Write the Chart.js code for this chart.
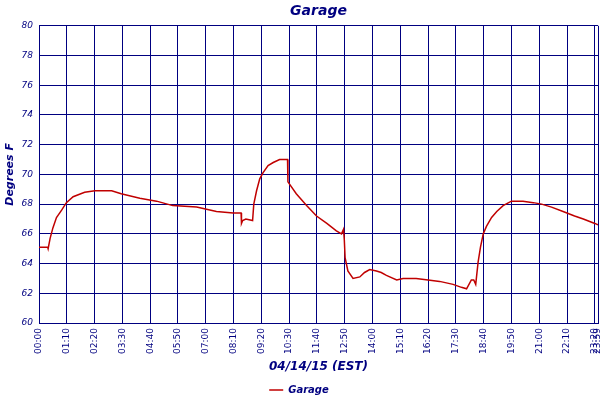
<!DOCTYPE html>
<html>
<head>
<meta charset="utf-8">
<title>Garage</title>
<script src="https://cdn.jsdelivr.net/npm/chart.js@4"></script>
<style>
  html, body { margin: 0; padding: 0; background: #fff; }
</style>
</head>
<body>
<canvas id="chartGarage" width="600" height="400"></canvas>
<script>
  // minutes after midnight on 04/14/15 and the garage temperature read there
  var minutes = [0, 22, 23, 28, 35, 44, 57, 69, 86, 115,
                 141, 183, 207, 254, 296, 337, 397, 447, 489, 509,
                 510, 513, 521, 538, 541, 548, 556, 564, 577, 590,
                 606, 626, 627, 648, 674, 699, 725, 749, 762, 767,
                 769, 771, 778, 791, 808, 820, 833, 850, 862, 875,
                 901, 917, 950, 980, 1009, 1043, 1064, 1077, 1089, 1095,
                 1100, 1106, 1112, 1119, 1127, 1140, 1153, 1169, 1190, 1219,
                 1245, 1266, 1291, 1320, 1349, 1371, 1400, 1408];
  var temps = [65.1, 65.1, 65.0, 65.7, 66.4, 67.1, 67.6, 68.1, 68.5, 68.8,
               68.9, 68.9, 68.7, 68.4, 68.2, 67.9, 67.8, 67.5, 67.4, 67.4,
               66.7, 66.9, 67.0, 66.9, 68.0, 68.9, 69.7, 70.1, 70.6, 70.8,
               71.0, 71.0, 69.5, 68.7, 67.9, 67.2, 66.7, 66.2, 66.0, 66.3,
               65.6, 64.4, 63.5, 63.0, 63.1, 63.4, 63.6, 63.5, 63.4, 63.2,
               62.9, 63.0, 63.0, 62.9, 62.8, 62.6, 62.4, 62.3, 62.9, 62.9,
               62.6, 64.1, 65.1, 66.0, 66.5, 67.1, 67.5, 67.9, 68.2, 68.2,
               68.1, 68.0, 67.8, 67.5, 67.2, 67.0, 66.7, 66.6];

  // x ticks every 70 minutes; the axis end carries the last reading's label
  var tickMinutes = [0, 70, 140, 210, 280, 350, 420, 490, 560, 630, 700,
                     770, 840, 910, 980, 1050, 1120, 1190, 1260, 1330, 1400];
  var endMinute = 1408;
  var endLabel = "23:59";
  var yTicks = [60, 62, 64, 66, 68, 70, 72, 74, 76, 78, 80];

  var navy = "#000080";
  var face = "'DejaVu Sans', sans-serif";

  function hhmm(m) {
    if (m === endMinute) return endLabel;
    var h = Math.floor(m / 60), mm = m % 60;
    return (h < 10 ? "0" : "") + h + ":" + (mm < 10 ? "0" : "") + mm;
  }

  var points = minutes.map(function (m, i) { return {x: m, y: temps[i]}; });

  // legend box a bit shorter so its row sits lower, near the bottom edge
  var legendLow = {
    id: "legendLow",
    afterInit: function (chart) {
      var lg = chart.legend;
      if (!lg) return;
      var fit = lg.fit;
      lg.fit = function () { fit.call(this); this.height = Math.max(0, this.height - 5); };
    }
  };

  new Chart(document.getElementById("chartGarage"), {
    type: "line",
    data: {
      datasets: [{
        label: "Garage",
        data: points,
        borderColor: "#c00000",
        backgroundColor: "#c00000",
        borderWidth: 1.5,
        pointRadius: 0,
        tension: 0,
        fill: false
      }]
    },
    plugins: [legendLow],
    options: {
      responsive: false,
      animation: false,
      layout: { padding: { left: 0, right: 2, top: 0, bottom: 0 } },
      plugins: {
        title: {
          display: true,
          text: "Garage",
          color: navy,
          fullSize: false,
          font: { family: face, size: 14, weight: "bold", style: "italic" },
          padding: { top: 3, bottom: 6 }
        },
        legend: {
          position: "bottom",
          labels: {
            usePointStyle: true,
            pointStyle: "line",
            pointStyleWidth: 14,
            color: navy,
            padding: 2,
            font: { family: face, size: 10, weight: "bold", style: "italic" }
          }
        },
        tooltip: { enabled: false }
      },
      scales: {
        x: {
          type: "linear",
          min: 0,
          max: endMinute,
          afterBuildTicks: function (s) {
            s.ticks = tickMinutes.concat([endMinute]).map(function (v) { return {value: v}; });
          },
          afterFit: function (s) { s.height = 60; s.paddingLeft = 0; s.paddingRight = 0; },
          ticks: {
            autoSkip: false,
            maxRotation: 90,
            minRotation: 90,
            padding: 5,
            color: navy,
            font: { family: face, size: 9 },
            callback: function (v) { return hhmm(v); }
          },
          grid: { color: navy, lineWidth: 1, drawTicks: false },
          border: { color: navy, width: 1 },
          title: {
            display: true,
            text: "04/14/15 (EST)",
            color: navy,
            font: { family: face, size: 12, weight: "bold", style: "italic" },
            padding: { top: 0, bottom: 9 }
          }
        },
        y: {
          min: 60,
          max: 80,
          afterBuildTicks: function (s) { s.ticks = yTicks.map(function (v) { return {value: v}; }); },
          afterFit: function (s) { s.width = 39; s.paddingTop = 0; s.paddingBottom = 0; },
          ticks: {
            padding: 6,
            color: navy,
            font: { family: face, size: 9, style: "italic" }
          },
          grid: { color: navy, lineWidth: 1, drawTicks: false },
          border: { color: navy, width: 1 },
          title: {
            display: true,
            text: "Degrees F",
            color: navy,
            font: { family: face, size: 11, weight: "bold", style: "italic" },
            padding: { top: 4, bottom: 0 }
          }
        }
      }
    }
  });
</script>
</body>
</html>
